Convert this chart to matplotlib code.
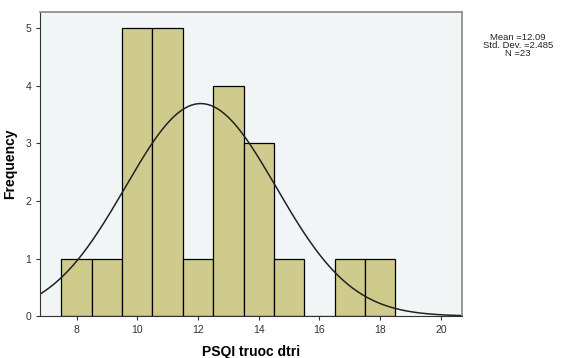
import numpy as np
import matplotlib.pyplot as plt

# histogram data (SPSS output)
bin_edges = [7.5, 8.5, 9.5, 10.5, 11.5, 12.5, 13.5, 14.5, 15.5, 16.5, 17.5, 18.5]
counts = [1, 1, 5, 5, 1, 4, 3, 1, 0, 1, 1]
mean = 12.09
std = 2.485
n = 23

plt.rcParams['font.family'] = ['Liberation Sans', 'DejaVu Sans']

fig = plt.figure(figsize=(5.65, 3.58), dpi=100)
ax = fig.add_axes([0.071, 0.117, 0.747, 0.849])
ax.set_facecolor('#f1f5f5')

widths = np.diff(bin_edges)
ax.bar(bin_edges[:-1], counts, width=widths, align='edge',
       color='#cfcb8d', edgecolor='black', linewidth=0.9)

# normal curve scaled to counts
x = np.linspace(6.8, 20.7, 300)
bw = 1.0
y = n * bw / (std * np.sqrt(2 * np.pi)) * np.exp(-0.5 * ((x - mean) / std) ** 2)
ax.plot(x, y, color='#222222', linewidth=1.1)

ax.set_xlim(6.8, 20.7)
ax.set_ylim(0, 5.28)
ax.set_xticks([8, 10, 12, 14, 16, 18, 20])
ax.set_yticks([0, 1, 2, 3, 4, 5])
ax.tick_params(labelsize=7.5, length=3, width=0.8, colors='#333333')

for side in ['top', 'right']:
    ax.spines[side].set_color('#888888')
    ax.spines[side].set_linewidth(1.2)
for side in ['left', 'bottom']:
    ax.spines[side].set_color('#333333')

ax.set_xlabel('PSQI truoc dtri', fontsize=10, fontweight='bold', labelpad=7)
ax.set_ylabel('Frequency', fontsize=10, fontweight='bold', labelpad=6)

fig.text(0.917, 0.908, 'Mean =%.2f\nStd. Dev. =%.3f\nN =%d' % (mean, std, n),
         ha='center', va='top', fontsize=6.8, linespacing=0.85, color='#222222')

fig.savefig('out.png', dpi=100)
